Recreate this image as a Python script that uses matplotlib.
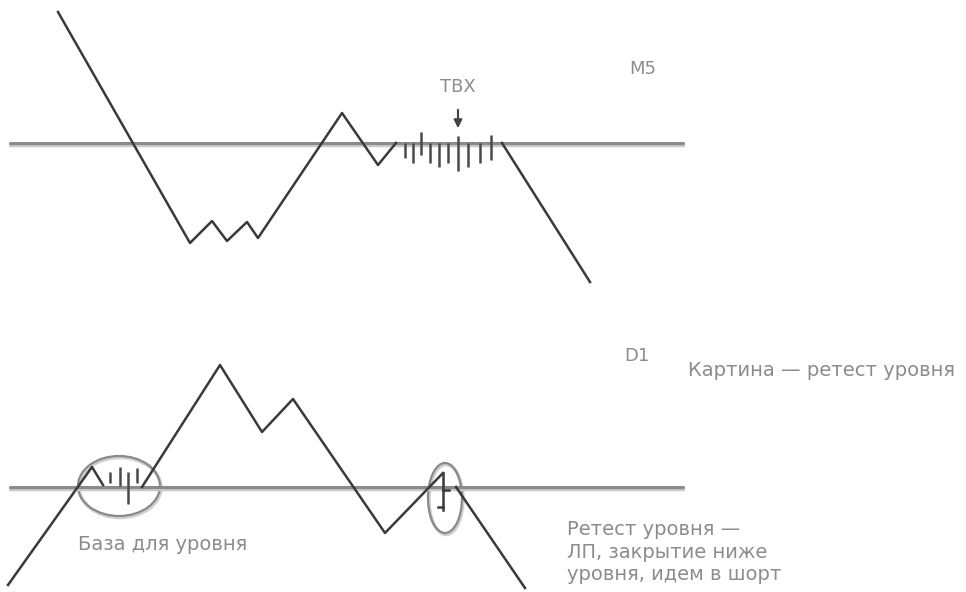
import numpy as np
import matplotlib.pyplot as plt
from matplotlib.patches import Ellipse

# ---- M5 panel (screen units, y grows downward) ----
m5_level = 143
m5_level_x = [10, 683]
m5_path_x = [58, 190, 212, 227, 247, 258, 342, 378, 396]
m5_path_y = [12, 243, 221, 241, 222, 238, 113, 165, 143]
m5_exit_x = [502, 590]
m5_exit_y = [143, 282]
m5_bar_x = [405, 413, 421, 430, 439, 448, 458, 468, 480, 491]
m5_bar_top = [143, 143, 132, 143, 143, 143, 136, 143, 143, 135]
m5_bar_bot = [158, 163, 155, 163, 167, 163, 171, 167, 163, 160]

# ---- D1 panel ----
d1_level = 487
d1_level_x = [10, 683]
d1_path_x = [8, 92, 103]
d1_path_y = [585, 467, 485]
d1_path2_x = [142, 220, 262, 293, 385, 443]
d1_path2_y = [487, 365, 432, 399, 533, 473]
d1_exit_x = [456, 525]
d1_exit_y = [487, 588]
d1_bar_x = [110, 120, 128, 137]
d1_bar_top = [472, 467, 472, 468]
d1_bar_bot = [483, 486, 504, 483]

line_c = '#3a3a3a'
level_c = '#8a8a8a'
text_c = '#8c8c8c'

fig = plt.figure(figsize=(9.66, 5.92), dpi=100)
ax = fig.add_axes([0, 0, 1, 1])
ax.set_xlim(0, 966)
ax.set_ylim(592, 0)
ax.axis('off')

# level lines
for lvl, lx in [(m5_level, m5_level_x), (d1_level, d1_level_x)]:
    ax.plot(lx, [lvl + 1.5, lvl + 1.5], color='#c8c8c8', lw=2.5, solid_capstyle='round')
    ax.plot(lx, [lvl, lvl], color=level_c, lw=2.2, solid_capstyle='round')

# M5 price
ax.plot(m5_path_x, m5_path_y, color=line_c, lw=1.8)
ax.plot(m5_exit_x, m5_exit_y, color=line_c, lw=1.8)
ax.vlines(m5_bar_x, m5_bar_top, m5_bar_bot, color='#4a4a4a', lw=1.8)

# D1 price
ax.plot(d1_path_x, d1_path_y, color=line_c, lw=1.8)
ax.plot(d1_path2_x, d1_path2_y, color=line_c, lw=1.8)
ax.plot(d1_exit_x, d1_exit_y, color=line_c, lw=1.8)
ax.vlines(d1_bar_x, d1_bar_top, d1_bar_bot, color='#4a4a4a', lw=1.8)
# retest bar
ax.plot([443, 443], [473, 510], color=line_c, lw=1.8)
ax.plot([438, 443], [507, 507], color=line_c, lw=1.8)
ax.plot([443, 449], [490, 490], color=line_c, lw=1.8)

# ellipses
for (cx, cy, w, h) in [(119, 486, 82, 60), (445, 498, 34, 70)]:
    ax.add_patch(Ellipse((cx + 1, cy + 1.5), w, h, fill=False, ec='#d0d0d0', lw=2.5))
    ax.add_patch(Ellipse((cx, cy), w, h, fill=False, ec='#8a8a8a', lw=1.6))

# TBX arrow
ax.annotate('', xy=(458, 131), xytext=(458, 107),
            arrowprops=dict(arrowstyle='-|>', color='#444444', lw=1.5, mutation_scale=12))

font = 'DejaVu Sans'
ax.text(458, 87, 'ТВХ', ha='center', va='center', fontsize=13, color=text_c, family=font)
ax.text(643, 69, 'М5', ha='center', va='center', fontsize=13, color=text_c, family=font)
ax.text(637, 356, 'D1', ha='center', va='center', fontsize=13, color=text_c, family=font)
ax.text(688, 370, 'Картина — ретест уровня', ha='left', va='center', fontsize=14,
        color=text_c, family=font)
ax.text(163, 545, 'База для уровня', ha='center', va='center', fontsize=14,
        color=text_c, family=font)
ax.text(567, 552, 'Ретест уровня —\nЛП, закрытие ниже\nуровня, идем в шорт',
        ha='left', va='center', fontsize=14, color=text_c, family=font, linespacing=1.25)

fig.savefig('out.png', dpi=100)
